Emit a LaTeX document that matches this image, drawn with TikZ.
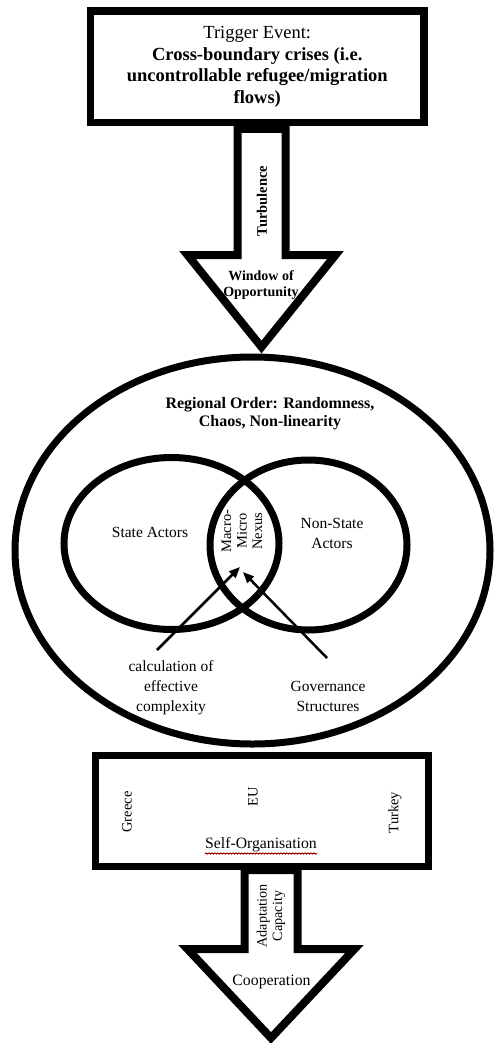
\documentclass[tikz,border=0pt]{standalone}
\usepackage{fontspec}
\setmainfont{Liberation Serif}
\usetikzlibrary{shapes.geometric,arrows.meta,decorations.pathmorphing}
\begin{document}
\begin{tikzpicture}[x=1pt,y=-1pt,
  frame/.style={draw, line width=7.5pt, rectangle, inner sep=0pt, align=center},
  bigarrow/.style={draw, fill=white, line width=8pt, line join=miter},
  oval/.style={draw, ellipse, line width=7pt, inner sep=0pt},
  lbl/.style={align=center, inner sep=0pt},
  ptr/.style={line width=2.5pt, -{Triangle[length=11pt,width=9pt]}}
]
\useasboundingbox (0,0) rectangle (496,1043);

% top box
\node[frame, minimum width=333.5pt, minimum height=111.5pt, font=\fontsize{18.5}{21.5}\selectfont] (trigger) at (257.25,66.75)
  {Trigger Event:\\ \textbf{Cross-boundary crises (i.e.}\\ \textbf{uncontrollable refugee/migration}\\ \textbf{flows)}};

% upper big arrow
\draw[bigarrow] (237.5,129) -- (237.5,255) -- (187.5,255) -- (261.5,347) -- (335.5,255) -- (285.5,255) -- (285.5,129) -- cycle;
\node[lbl, rotate=90, font=\fontsize{14.5}{16}\selectfont\bfseries] (turb) at (262,201) {Turbulence};
\node[lbl, font=\fontsize{14}{16.5}\selectfont\bfseries] (window) at (261,285) {Window of\\Opportunity};

% regional order ellipse
\node[oval, minimum width=475pt, minimum height=387pt] (region) at (252.5,550.5) {};
\node[lbl, font=\fontsize{16}{18}\selectfont\bfseries] (regtxt) at (270,414) {Regional Order: Randomness,\\Chaos, Non-linearity};

% Venn
\node[oval, minimum width=215pt, minimum height=172pt] (state) at (171.5,543.5) {};
\node[oval, minimum width=197pt, minimum height=170pt] (nonstate) at (308.5,545) {};
\node[lbl, font=\fontsize{15.5}{20}\selectfont] (statetxt) at (150,532) {State Actors};
\node[lbl, font=\fontsize{15.5}{20}\selectfont] (nonstatetxt) at (332,533) {Non-State\\Actors};
\node[lbl, rotate=90, font=\fontsize{14.5}{15.5}\selectfont] (nexus) at (242,531) {Macro-\\Micro\\Nexus};

% pointers
\node[lbl, font=\fontsize{15.5}{20}\selectfont] (calc) at (171,688) {calculation of\\effective\\complexity};
\node[lbl, font=\fontsize{15.5}{19.5}\selectfont] (gov) at (328,696.5) {Governance\\Structures};
\coordinate (calctail) at (157,650);
\coordinate (govtail) at (327,658);
\coordinate (nexusin1) at (240,567);
\coordinate (nexusin2) at (243,572);
\draw[ptr] (calctail) -- (nexusin1);
\draw[ptr] (govtail) -- (nexusin2);

% bottom box
\node[frame, line width=7pt, minimum width=333.5pt, minimum height=111pt] (selforg) at (261.75,811) {};
\node[lbl, rotate=90, font=\fontsize{14.5}{16}\selectfont] (greece) at (127,812) {Greece};
\node[lbl, rotate=90, font=\fontsize{14.5}{16}\selectfont] (eu) at (253,797) {EU};
\node[lbl, rotate=90, font=\fontsize{14.5}{16}\selectfont] (turkey) at (395,812.5) {Turkey};
\node[lbl, font=\fontsize{15.75}{18}\selectfont, anchor=base] (soltxt) at (261,848) {\underline{Self-Organisation}};
\draw[red!80!black, line width=0.8pt, decorate, decoration={snake, amplitude=0.7pt, segment length=3pt}]
  ([yshift=-5.5pt]soltxt.base west) -- ([yshift=-5.5pt]soltxt.base east);

% lower big arrow
\draw[bigarrow] (244.5,870) -- (244.5,949) -- (187.5,949) -- (271,1038) -- (354.5,949) -- (297.5,949) -- (297.5,870) -- cycle;
\node[lbl, rotate=90, font=\fontsize{14.2}{15.5}\selectfont] (adapt) at (271,916) {Adaptation\\Capacity};
\node[lbl, font=\fontsize{15.8}{18}\selectfont] (coop) at (271.5,982) {Cooperation};
\end{tikzpicture}
\end{document}
